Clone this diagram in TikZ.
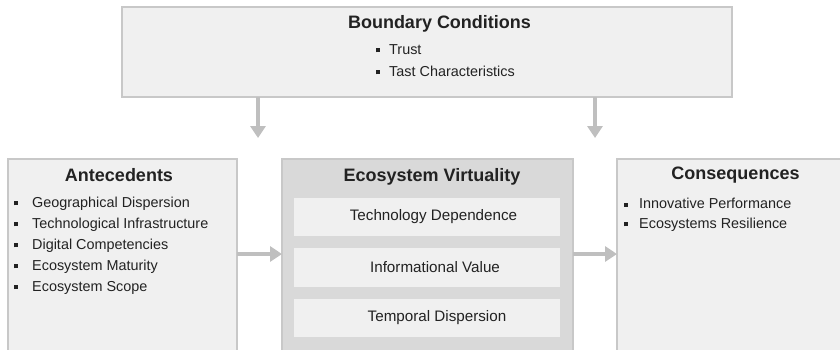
\documentclass[tikz,border=0pt]{standalone}
\usepackage{fontspec}
\setmainfont{Liberation Sans}
\usetikzlibrary{arrows.meta}
\definecolor{boxfill}{HTML}{F0F0F0}
\definecolor{midfill}{HTML}{D9D9D9}
\definecolor{boxline}{HTML}{C8C8C8}
\definecolor{arrowc}{HTML}{BFBFBF}
\definecolor{txt}{HTML}{222222}
\newcommand{\sqb}[1]{\makebox[0pt][r]{\rule[1.9pt]{4.2pt}{4.2pt}\hspace{#1}}}
\tikzset{
  x=1pt, y=-1pt,
  panel/.style={fill=boxfill, draw=boxline, line width=1.3pt},
  midpanel/.style={fill=midfill, draw=boxline, line width=1.3pt},
  inner/.style={fill=boxfill, draw=none},
  ttl/.style={font=\fontsize{18}{20}\selectfont\bfseries, text=txt, inner sep=0pt},
  itm/.style={font=\fontsize{14.4}{16}\selectfont, text=txt, inner sep=0pt, anchor=west},
  inn/.style={font=\fontsize{15.2}{17}\selectfont, text=txt, inner sep=0pt},
  flow/.style={draw=arrowc, line width=3.5pt, -{Triangle[width=15pt,length=12pt]}},
}
\begin{document}
\begin{tikzpicture}
\useasboundingbox (0,0) rectangle (840,349);
\clip (0,0) rectangle (840,349);
% top box
\draw[panel] (122,7) rectangle (732,97);
\coordinate (topL) at (258,97);
\coordinate (topR) at (595,97);
\node[ttl] (bc) at (439.5,23.5) {Boundary Conditions};
\node[itm] (b1) at (389,49.5) {\sqb{9pt}Trust};
\node[itm] (b2) at (389,71) {\sqb{9pt}Tast Characteristics};
% left box
\draw[panel] (8,159) rectangle (237,360);
\node[ttl] (ant) at (119,175.5) {Antecedents};
\node[itm] (a1) at (32,203.5) {\sqb{14pt}Geographical Dispersion};
\node[itm] (a2) at (32,224.5) {\sqb{14pt}Technological Infrastructure};
\node[itm] (a3) at (32,245.5) {\sqb{14pt}Digital Competencies};
\node[itm] (a4) at (32,266.5) {\sqb{14pt}Ecosystem Maturity};
\node[itm] (a5) at (32,287.5) {\sqb{14pt}Ecosystem Scope};
% middle box
\draw[midpanel] (282,159) rectangle (573,360);
\node[ttl] (ev) at (432,176.5) {Ecosystem Virtuality};
\fill[inner] (294,198) rectangle (560,236);
\fill[inner] (294,248) rectangle (560,287);
\fill[inner] (294,299) rectangle (560,337);
\node[inn] (v1) at (433.5,217) {Technology Dependence};
\node[inn] (v2) at (435,267.5) {Informational Value};
\node[inn] (v3) at (437,318) {Temporal Dispersion};
% right box
\draw[panel] (617,159) rectangle (853,360);
\node[ttl] (con) at (735.5,175.5) {Consequences};
\node[itm] (c1) at (639,203.5) {\sqb{11pt}Innovative Performance};
\node[itm] (c2) at (639,224.5) {\sqb{11pt}Ecosystems Resilience};
% anchors for arrows
\coordinate (antR) at (237,254);
\coordinate (evL) at (282,254);
\coordinate (evR) at (573,254);
\coordinate (conL) at (617,254);
\coordinate (antT) at (258,138);
\coordinate (conT) at (595,138);
\draw[flow] (topL) -- (antT);
\draw[flow] (topR) -- (conT);
\draw[flow] (antR) -- (evL);
\draw[flow] (evR) -- (conL);
\end{tikzpicture}
\end{document}
